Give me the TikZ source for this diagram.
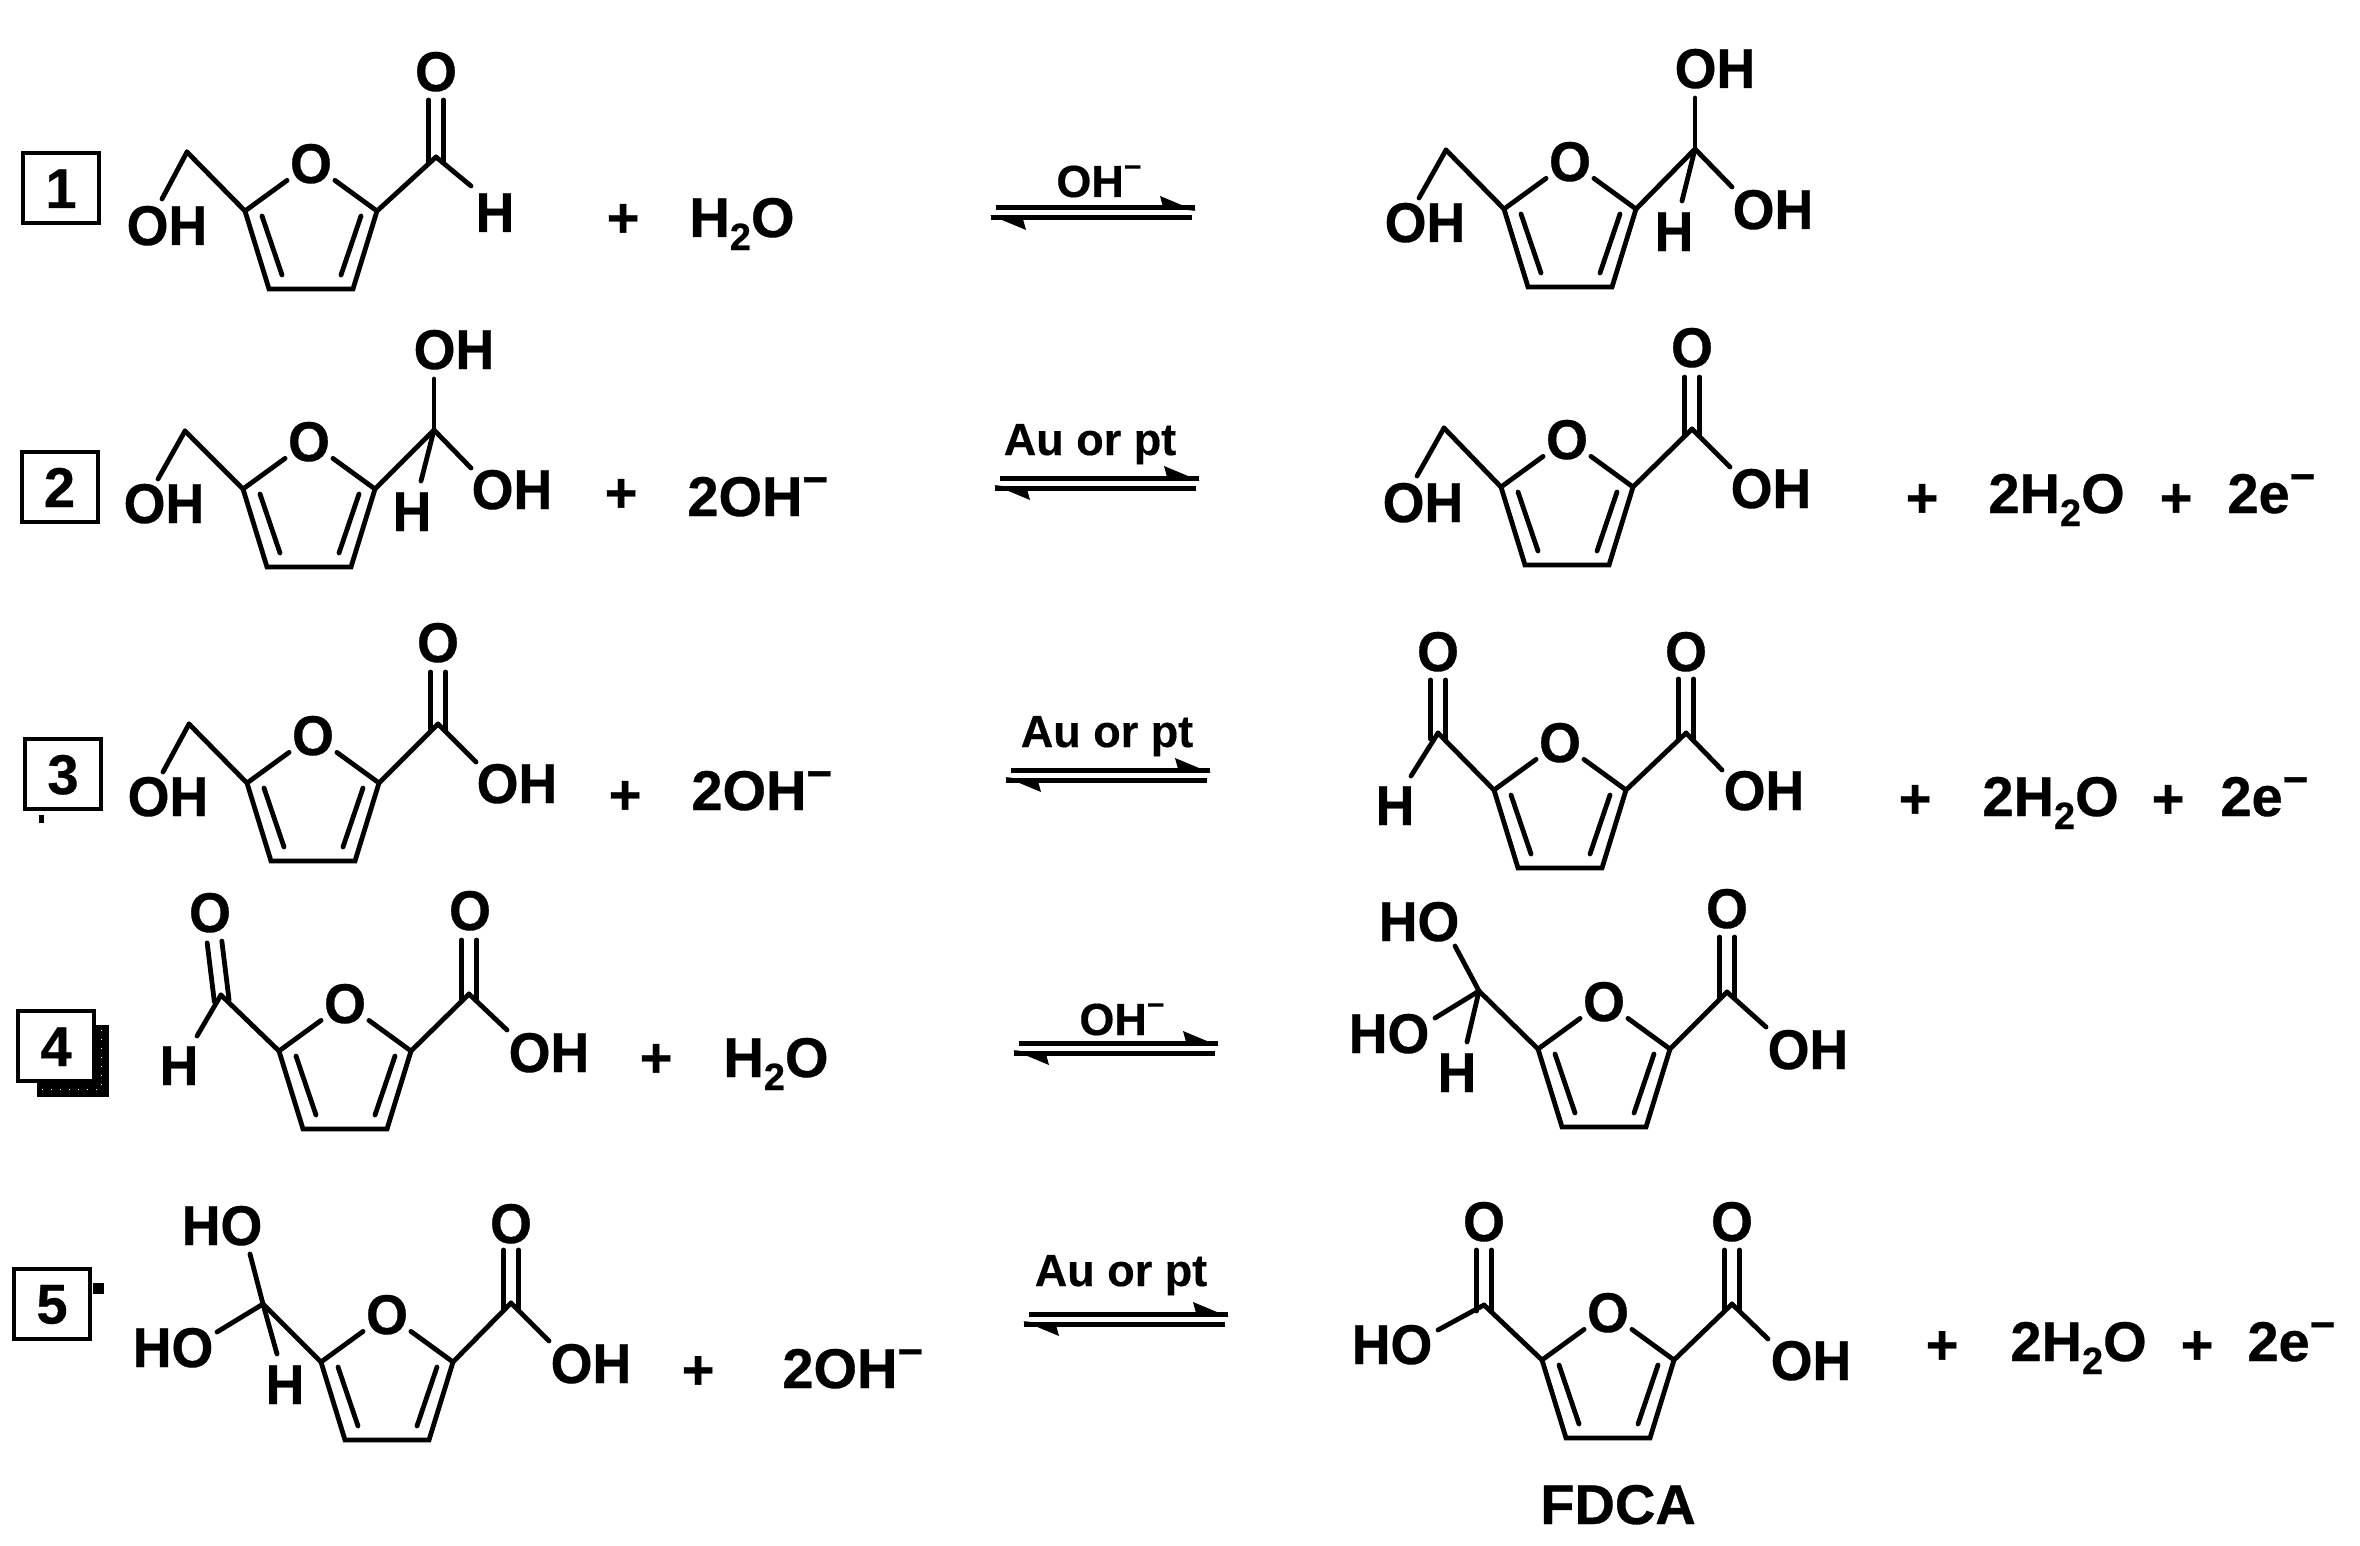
\documentclass[tikz,border=0pt]{standalone}
\usepackage{fontspec}
\usetikzlibrary{calc}
\setmainfont{Liberation Sans}
\newfontfamily\chemf[FakeStretch=0.96,FakeBold=0.6]{Liberation Sans Bold}
\newfontfamily\fmlf[FakeBold=0.6]{Liberation Sans Bold}
\newfontfamily\catf[FakeBold=0.35]{Liberation Sans Bold}
\tikzset{
  bond/.style={line width=2.4pt,line cap=round,line join=miter,black},
  atom/.style={font=\chemf\fontsize{28}{30}\selectfont,inner sep=0pt,outer sep=1.5pt,text height=20pt,text depth=0pt},
  fml/.style={font=\fmlf\fontsize{28}{30}\selectfont,inner sep=0pt,anchor=base west},
  plus/.style={font=\fmlf\fontsize{28}{30}\selectfont,inner sep=0pt,text height=20pt,text depth=0pt},
  cat/.style={font=\catf\fontsize{22.5}{24}\selectfont,inner sep=0pt,anchor=base},
  catoh/.style={font=\catf\fontsize{22.5}{24}\selectfont,inner sep=0pt,anchor=base west},
  numbox/.style={draw,line width=2pt,fill=white,minimum width=38pt,minimum height=35pt,inner sep=0pt,
    font=\fmlf\fontsize{28}{30}\selectfont,text height=20pt,text depth=0pt},
  eqline/.style={line width=2.5pt,line cap=butt,black}
}
% ring: name, x, y of the ring O
\newcommand{\furan}[3]{%
  \node[atom] (#1-O) at (#2,#3) {O};
  \path (#1-O.center) ++(-66,48) coordinate (#1-a);
  \path (#1-O.center) ++(-42,126) coordinate (#1-b);
  \path (#1-O.center) ++(42,126) coordinate (#1-c);
  \path (#1-O.center) ++(66,48) coordinate (#1-d);
  \path (#1-O.center) ++(-49,53) coordinate (#1-ia);
  \path (#1-O.center) ++(-29,112) coordinate (#1-ib);
  \path (#1-O.center) ++(50,53) coordinate (#1-ic);
  \path (#1-O.center) ++(30,112) coordinate (#1-id);
  \draw[bond] (#1-O) -- (#1-a) -- (#1-b) -- (#1-c) -- (#1-d) -- (#1-O);
  \draw[bond] (#1-ia) -- (#1-ib);
  \draw[bond] (#1-ic) -- (#1-id);
}
% carbon on the ring: name, x, y, ring atom
\newcommand{\carb}[4]{%
  \coordinate (#1) at (#2,#3);
  \draw[bond] (#4) -- (#1);
}
% group with single bond: name, cx, cy, text, bond end x, y, from
\newcommand{\grp}[7]{%
  \node[atom] (#1) at (#2,#3) {#4};
  \coordinate (#1-e) at (#5,#6);
  \draw[bond] (#7) -- (#1-e);
}
% C=O: name, cx, cy, bond end x, y, from
\newcommand{\oxo}[6]{%
  \node[atom] (#1) at (#2,#3) {O};
  \coordinate (#1-e) at (#4,#5);
  \coordinate (#1-s) at ($(#6)!-3pt!(#1-e)$);
  \draw[bond] ($(#1-s)!3.7pt!90:(#1-e)$) -- ($(#1-e)!3.7pt!-90:(#1-s)$);
  \draw[bond] ($(#1-s)!3.7pt!-90:(#1-e)$) -- ($(#1-e)!3.7pt!90:(#1-s)$);
}
% equilibrium arrows: name, X, Y (left end and level of the upper line)
\newcommand{\eqarrow}[3]{%
  \coordinate (#1-tl) at (#2,#3);
  \path (#1-tl) ++(199,0) coordinate (#1-tr);
  \path (#1-tl) ++(-5,10) coordinate (#1-bl);
  \path (#1-tl) ++(196,10) coordinate (#1-br);
  \draw[eqline] (#1-tl) -- (#1-tr);
  \draw[eqline] (#1-br) -- (#1-bl);
  \fill (#1-tr) ++(1,3) -- ++(-36,-15) -- ++(3,11) -- cycle;
  \fill (#1-bl) ++(-1,-3) -- ++(36,15) -- ++(-3,-11) -- cycle;
}
\newcommand{\subtwo}{\raisebox{-6.5pt}{\fontsize{19}{20}\selectfont 2}}
\newcommand{\supm}{\raisebox{10.8pt}{\fontsize{22}{24}\selectfont −}}
\newcommand{\supms}{\raisebox{10pt}{\fontsize{15}{16}\selectfont −}}
\begin{document}
\begin{tikzpicture}[x=0.5pt,y=-0.5pt]
\useasboundingbox (0,0) rectangle (2360,1546);
\fill[white] (0,0) rectangle (2360,1546);

% ---------- row 1
\node[numbox] (b1) at (61,188) {1};
\furan{A}{311}{163}
\coordinate (A-ch) at (187,152);
\draw[bond] (A-a) -- (A-ch);
\grp{A-oh}{167}{225}{OH}{162}{199}{A-ch}
\coordinate (A-cc) at (436,157);
\oxo{A-ox}{436}{71}{436}{100}{A-cc}
\draw[bond] (A-d) -- (A-cc);
\grp{A-h}{495}{212}{H}{471}{186}{A-cc}
\node[plus] (A-p) at (623,217) {+};
\node[fml] (A-w) at (689,237) {H\subtwo O};
\eqarrow{E1}{996}{208}
\node[catoh] (E1-l) at (1056,197) {OH\supms};
\furan{B}{1570}{161}
\coordinate (B-ch) at (1446,150);
\draw[bond] (B-a) -- (B-ch);
\grp{B-oh}{1425}{222}{OH}{1419}{198}{B-ch}
\carb{B-cc}{1695}{149}{B-d}
\grp{B-o1}{1715}{68}{OH}{1695}{98}{B-cc}
\grp{B-o2}{1773}{209}{OH}{1732}{187}{B-cc}
\grp{B-h}{1674}{231}{H}{1682}{201}{B-cc}

% ---------- row 2
\node[numbox] (b2) at (59.5,487) {2};
\furan{C}{309}{441}
\coordinate (C-ch) at (185,431);
\draw[bond] (C-a) -- (C-ch);
\grp{C-oh}{164}{503}{OH}{158}{479}{C-ch}
\carb{C-cc}{434}{430}{C-d}
\grp{C-o1}{454}{349}{OH}{434}{379}{C-cc}
\grp{C-o2}{512}{489}{OH}{471}{468}{C-cc}
\grp{C-h}{412}{511}{H}{421}{481}{C-cc}
\node[plus] (C-p) at (621,492) {+};
\node[fml] (C-w) at (687,516) {2OH\supm};
\eqarrow{E2}{1000}{478}
\node[cat] (E2-l) at (1090,455) {Au or pt};
\furan{D}{1567}{439}
\coordinate (D-ch) at (1444,428);
\draw[bond] (D-a) -- (D-ch);
\grp{D-oh}{1423}{502}{OH}{1417}{476}{D-ch}
\coordinate (D-cc) at (1692,429);
\oxo{D-ox}{1692}{347}{1692}{377}{D-cc}
\draw[bond] (D-d) -- (D-cc);
\grp{D-o2}{1771}{488}{OH}{1730}{467}{D-cc}
\node[plus] (D-p1) at (1922,497) {+};
\node[fml] (D-w) at (1988,513) {2H\subtwo O};
\node[plus] (D-p2) at (2176,497) {+};
\node[fml] (D-e) at (2227,513) {2e\supm};

% ---------- row 3
\node[numbox] (b3) at (63,774) {3};
\fill (39,815) rectangle (44,823);
\furan{F}{313}{735}
\coordinate (F-ch) at (189,724);
\draw[bond] (F-a) -- (F-ch);
\grp{F-oh}{168}{796}{OH}{163}{772}{F-ch}
\coordinate (F-cc) at (438,724);
\oxo{F-ox}{438}{642}{438}{672}{F-cc}
\draw[bond] (F-d) -- (F-cc);
\grp{F-o2}{517}{783}{OH}{476}{762}{F-cc}
\node[plus] (F-p) at (625,794) {+};
\node[fml] (F-w) at (691,810) {2OH\supm};
\eqarrow{E3}{1011}{770}
\node[cat] (E3-l) at (1107,747) {Au or pt};
\furan{G}{1560}{742}
\coordinate (G-c1) at (1438,733);
\oxo{G-ox1}{1438}{651}{1438}{680}{G-c1}
\draw[bond] (G-a) -- (G-c1);
\grp{G-h}{1395}{805}{H}{1411}{776}{G-c1}
\coordinate (G-c2) at (1686,733);
\oxo{G-ox2}{1686}{651}{1686}{679}{G-c2}
\draw[bond] (G-d) -- (G-c2);
\grp{G-o2}{1764}{790}{OH}{1722}{770}{G-c2}
\node[plus] (G-p1) at (1915,798) {+};
\node[fml] (G-w) at (1982,816) {2H\subtwo O};
\node[plus] (G-p2) at (2168,798) {+};
\node[fml] (G-e) at (2220,816) {2e\supm};

% ---------- row 4
\fill (37,1025) rectangle (109,1097);
\draw[white,line width=0.5pt,dash pattern=on 0.7pt off 3.8pt] (101,1030) -- (101,1089) -- (40,1089);
\node[numbox] (b4) at (56,1046) {4};
\furan{H}{345}{1003}
\coordinate (H-c1) at (221,995);
\oxo{H-ox1}{210}{912}{214.5}{942}{H-c1}
\draw[bond] (H-a) -- (H-c1);
\grp{H-h}{179}{1065}{H}{197}{1036}{H-c1}
\coordinate (H-c2) at (469,994);
\oxo{H-ox2}{470}{910}{469}{940}{H-c2}
\draw[bond] (H-d) -- (H-c2);
\grp{H-o2}{549}{1052}{OH}{507}{1030}{H-c2}
\node[plus] (H-p) at (656,1057) {+};
\node[fml] (H-w) at (723,1077) {H\subtwo O};
\eqarrow{E4}{1019}{1043}
\node[catoh] (E4-l) at (1079,1035) {OH\supms};
\furan{J}{1604}{1001}
\carb{J-c1}{1479}{991}{J-a}
\grp{J-o1}{1419}{921}{HO}{1455}{946}{J-c1}
\grp{J-o2}{1389}{1033}{HO}{1435}{1018}{J-c1}
\grp{J-h}{1457}{1072}{H}{1467}{1042}{J-c1}
\coordinate (J-c2) at (1727,992);
\oxo{J-ox}{1727}{908}{1727}{937}{J-c2}
\draw[bond] (J-d) -- (J-c2);
\grp{J-o3}{1808}{1049}{OH}{1766}{1027}{J-c2}

% ---------- row 5
\node[numbox] (b5) at (52,1303.5) {5};
\fill (93,1283) rectangle (104,1294);
\furan{K}{387}{1314}
\carb{K-c1}{263}{1304}{K-a}
\grp{K-o1}{222}{1225}{HO}{250}{1254}{K-c1}
\grp{K-o2}{173}{1347}{HO}{217}{1332}{K-c1}
\grp{K-h}{285}{1384}{H}{277}{1354}{K-c1}
\coordinate (K-c2) at (511,1303);
\oxo{K-ox}{511}{1223}{511}{1250}{K-c2}
\draw[bond] (K-d) -- (K-c2);
\grp{K-o3}{591}{1363}{OH}{549}{1341}{K-c2}
\node[plus] (K-p) at (698,1369) {+};
\node[fml] (K-w) at (782,1388) {2OH\supm};
\eqarrow{E5}{1029}{1314}
\node[cat] (E5-l) at (1121,1286) {Au or pt};
\furan{L}{1608}{1312}
\coordinate (L-c1) at (1484,1305);
\oxo{L-ox1}{1484}{1221}{1484}{1250}{L-c1}
\draw[bond] (L-a) -- (L-c1);
\grp{L-o1}{1392}{1344}{HO}{1438}{1330}{L-c1}
\coordinate (L-c2) at (1732,1304);
\oxo{L-ox2}{1732}{1221}{1732}{1250}{L-c2}
\draw[bond] (L-d) -- (L-c2);
\grp{L-o2}{1811}{1360}{OH}{1768}{1339}{L-c2}
\node[plus] (L-p1) at (1942,1344) {+};
\node[fml] (L-w) at (2010,1361) {2H\subtwo O};
\node[plus] (L-p2) at (2197,1344) {+};
\node[fml] (L-e) at (2247,1361) {2e\supm};
\node[plus] (fdca) at (1618,1504) {FDCA};
\end{tikzpicture}
\end{document}
